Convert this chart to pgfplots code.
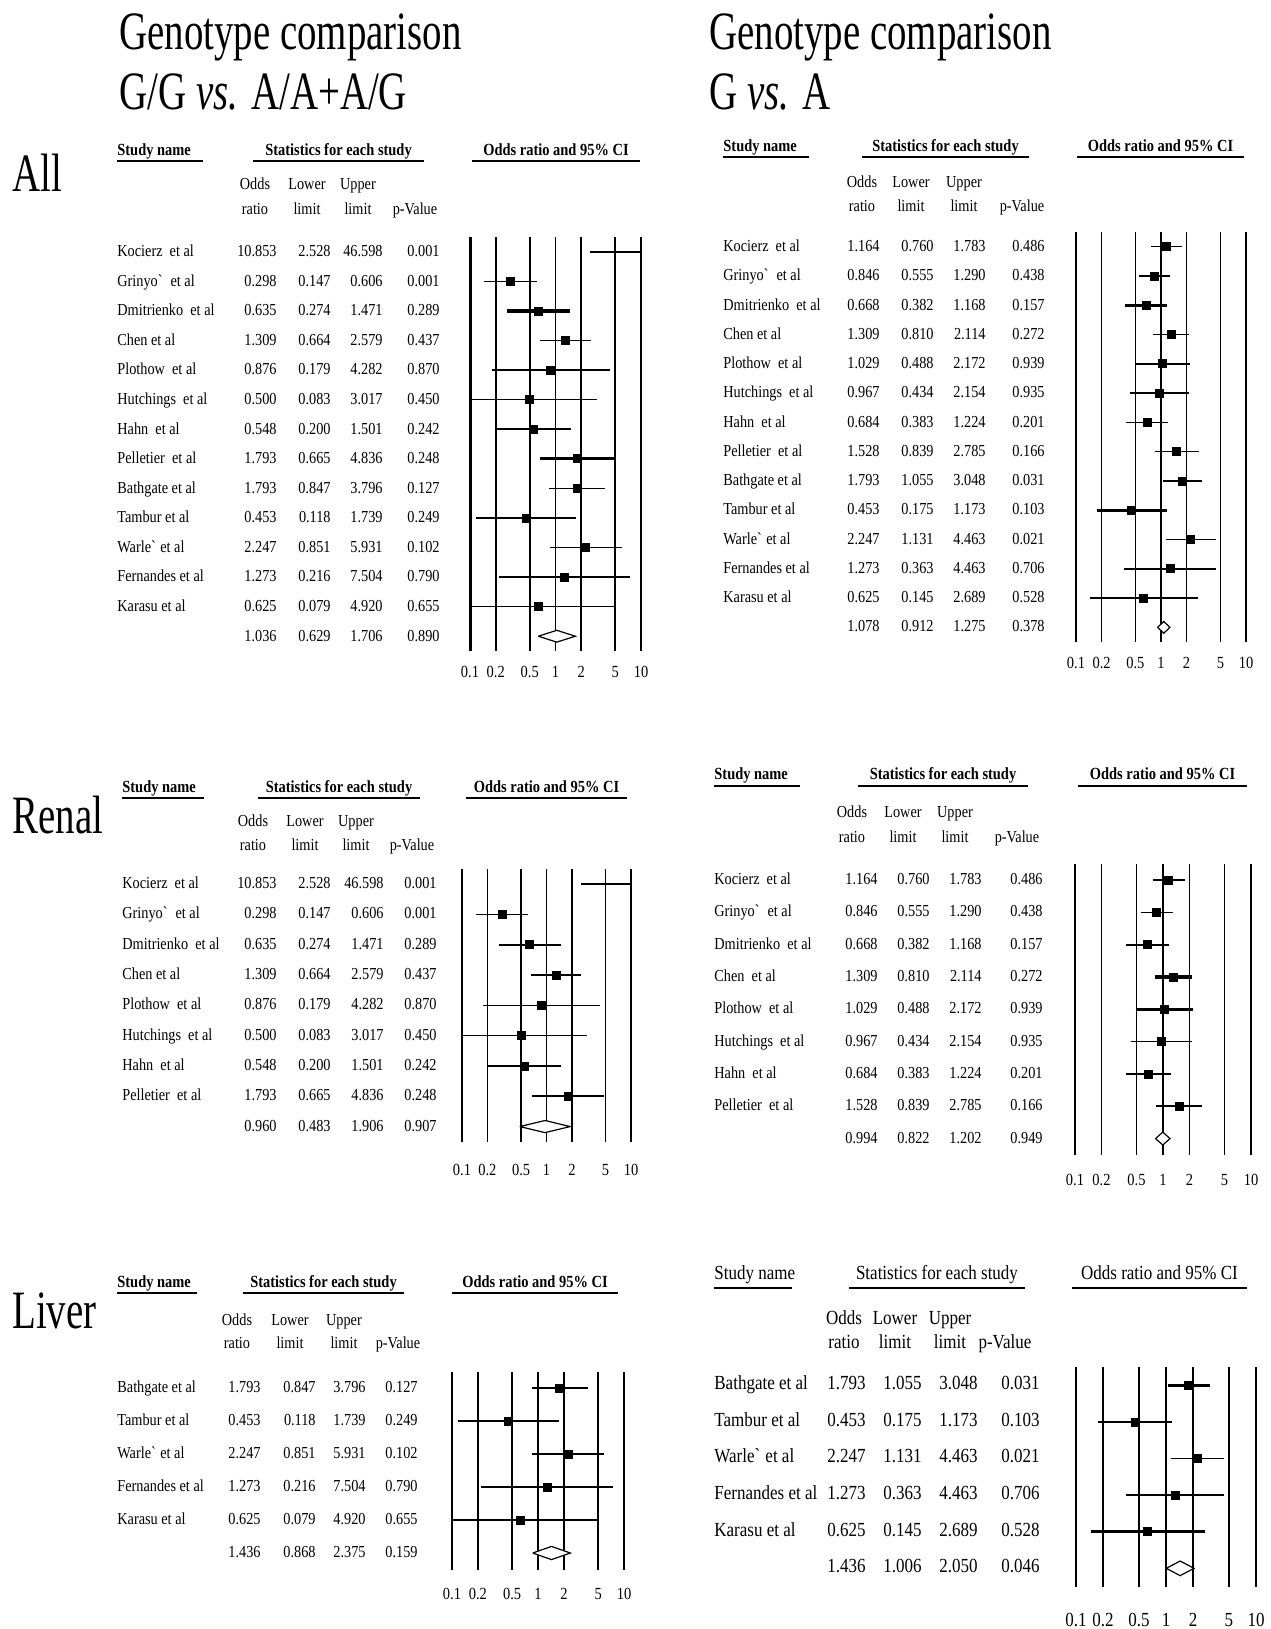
\documentclass[border=0pt]{standalone}
\usepackage{fontspec}
\setmainfont{Liberation Serif}[FakeStretch=0.85]
\newfontfamily\titlefont{Liberation Serif}[FakeStretch=0.72]
\usepackage{pgfplots}
\pgfplotsset{compat=1.18}

\newcommand\tabfont{\fontsize{8.4}{9}\selectfont}
\newcommand\headfont{\bfseries\fontsize{8.5}{9}\selectfont}
\newcommand\bigtitle{\titlefont\fontsize{27}{30}\selectfont}

\tikzset{
  ci/.style={black, line width=0.8pt},
  cithick/.style={black, line width=1.7pt},
  pooled/.style={black, fill=white, line width=0.6pt, line join=miter},
}

% text helpers (picture units = pixels of the reference)
\newcommand\heads[8]{% text y, rule y, study name, statistics, odds ratio
  \node[anchor=mid west, font=\headfont] at (#3,#1) {Study name};
  \draw[line width=1pt] (#3,#2) -- (#4,#2);
  \node[anchor=mid, font=\headfont] at ({(#5+#6)/2},#1) {Statistics for each study};
  \draw[line width=1pt] (#5,#2) -- (#6,#2);
  \node[anchor=mid, font=\headfont] at ({(#7+#8)/2},#1) {Odds ratio and 95\% CI};
  \draw[line width=1pt] (#7,#2) -- (#8,#2);}
\newcommand\colheads[6]{%
  \node[anchor=mid] at (#3,#1) {Odds};  \node[anchor=mid] at (#3,#2) {ratio};
  \node[anchor=mid] at (#4,#1) {Lower}; \node[anchor=mid] at (#4,#2) {limit};
  \node[anchor=mid] at (#5,#1) {Upper}; \node[anchor=mid] at (#5,#2) {limit};
  \node[anchor=mid] at (#6,#2) {p-Value};}
\newcommand\setcols[7]{\def\colN{#1}\def\colOR{#2}\def\colLo{#3}\def\colUp{#4}\def\colP{#5}\def\rowA{#6}\def\rowStep{#7}}
\newcommand\trow[6]{%
  \pgfmathsetmacro\rowY{\rowA+(#1-1)*\rowStep}
  \node[anchor=mid west] at (\colN,\rowY) {#2};
  \node[anchor=mid east] at (\colOR,\rowY) {#3};
  \node[anchor=mid east] at (\colLo,\rowY) {#4};
  \node[anchor=mid east] at (\colUp,\rowY) {#5};
  \node[anchor=mid east] at (\colP,\rowY) {#6};}

\begin{document}
\begin{tikzpicture}[x=0.5pt, y=-0.5pt]
\useasboundingbox (0,0) rectangle (1270,1629);

\begin{scope}[every node/.style={inner sep=0pt}]
% titles
\node[anchor=base west, font=\bigtitle] at (119,49) {Genotype comparison};
\node[anchor=base west, font=\bigtitle] at (119,109) {G/G \textit{vs.} A/A+A/G};
\node[anchor=base west, font=\bigtitle] at (709,49) {Genotype comparison};
\node[anchor=base west, font=\bigtitle] at (709,109) {G \textit{vs.} A};
\node[anchor=base west, font=\bigtitle] at (12,191) {All};
\node[anchor=base west, font=\bigtitle] at (12,833) {Renal};
\node[anchor=base west, font=\bigtitle] at (12,1328) {Liver};

\begin{scope}[font=\tabfont]
% ---- All, G/G vs A/A+A/G
\heads{151}{161}{117}{203}{253}{424}{472}{640}
\colheads{185}{210}{255}{307}{358}{415}
\setcols{117}{277}{331}{383}{440}{252}{29.58}
\trow{1}{Kocierz\ \ et al}{10.853}{2.528}{46.598}{0.001}
\trow{2}{Grinyo\textasciigrave\ \ et al}{0.298}{0.147}{0.606}{0.001}
\trow{3}{Dmitrienko\ \ et al}{0.635}{0.274}{1.471}{0.289}
\trow{4}{Chen et al}{1.309}{0.664}{2.579}{0.437}
\trow{5}{Plothow\ \ et al}{0.876}{0.179}{4.282}{0.870}
\trow{6}{Hutchings\ \ et al}{0.500}{0.083}{3.017}{0.450}
\trow{7}{Hahn\ \ et al}{0.548}{0.200}{1.501}{0.242}
\trow{8}{Pelletier\ \ et al}{1.793}{0.665}{4.836}{0.248}
\trow{9}{Bathgate et al}{1.793}{0.847}{3.796}{0.127}
\trow{10}{Tambur et al}{0.453}{0.118}{1.739}{0.249}
\trow{11}{Warle\textasciigrave\ et al}{2.247}{0.851}{5.931}{0.102}
\trow{12}{Fernandes et al}{1.273}{0.216}{7.504}{0.790}
\trow{13}{Karasu et al}{0.625}{0.079}{4.920}{0.655}
\trow{14}{}{1.036}{0.629}{1.706}{0.890}

% ---- All, G vs A
\heads{147}{157}{723}{809}{862}{1029}{1077}{1244}
\colheads{183}{207}{862}{911}{964}{1022}
\setcols{723}{880}{934}{986}{1045}{247}{29.25}
\trow{1}{Kocierz\ \ et al}{1.164}{0.760}{1.783}{0.486}
\trow{2}{Grinyo\textasciigrave\ \ et al}{0.846}{0.555}{1.290}{0.438}
\trow{3}{Dmitrienko\ \ et al}{0.668}{0.382}{1.168}{0.157}
\trow{4}{Chen et al}{1.309}{0.810}{2.114}{0.272}
\trow{5}{Plothow\ \ et al}{1.029}{0.488}{2.172}{0.939}
\trow{6}{Hutchings\ \ et al}{0.967}{0.434}{2.154}{0.935}
\trow{7}{Hahn\ \ et al}{0.684}{0.383}{1.224}{0.201}
\trow{8}{Pelletier\ \ et al}{1.528}{0.839}{2.785}{0.166}
\trow{9}{Bathgate et al}{1.793}{1.055}{3.048}{0.031}
\trow{10}{Tambur et al}{0.453}{0.175}{1.173}{0.103}
\trow{11}{Warle\textasciigrave\ et al}{2.247}{1.131}{4.463}{0.021}
\trow{12}{Fernandes et al}{1.273}{0.363}{4.463}{0.706}
\trow{13}{Karasu et al}{0.625}{0.145}{2.689}{0.528}
\trow{14}{}{1.078}{0.912}{1.275}{0.378}

% ---- Renal, G/G vs A/A+A/G
\heads{788}{798}{122}{204}{258}{420}{466}{627}
\colheads{822}{846}{253}{305}{356}{412}
\setcols{122}{277}{331}{384}{437}{884}{30.3}
\trow{1}{Kocierz\ \ et al}{10.853}{2.528}{46.598}{0.001}
\trow{2}{Grinyo\textasciigrave\ \ et al}{0.298}{0.147}{0.606}{0.001}
\trow{3}{Dmitrienko\ \ et al}{0.635}{0.274}{1.471}{0.289}
\trow{4}{Chen et al}{1.309}{0.664}{2.579}{0.437}
\trow{5}{Plothow\ \ et al}{0.876}{0.179}{4.282}{0.870}
\trow{6}{Hutchings\ \ et al}{0.500}{0.083}{3.017}{0.450}
\trow{7}{Hahn\ \ et al}{0.548}{0.200}{1.501}{0.242}
\trow{8}{Pelletier\ \ et al}{1.793}{0.665}{4.836}{0.248}
\trow{9}{}{0.960}{0.483}{1.906}{0.907}

% ---- Renal, G vs A
\heads{775}{786}{714}{800}{858}{1028}{1078}{1247}
\colheads{813}{838}{852}{903}{955}{1017}
\setcols{714}{878}{930}{982}{1043}{880}{32.3}
\trow{1}{Kocierz\ \ et al}{1.164}{0.760}{1.783}{0.486}
\trow{2}{Grinyo\textasciigrave\ \ et al}{0.846}{0.555}{1.290}{0.438}
\trow{3}{Dmitrienko\ \ et al}{0.668}{0.382}{1.168}{0.157}
\trow{4}{Chen\ \ et al}{1.309}{0.810}{2.114}{0.272}
\trow{5}{Plothow\ \ et al}{1.029}{0.488}{2.172}{0.939}
\trow{6}{Hutchings\ \ et al}{0.967}{0.434}{2.154}{0.935}
\trow{7}{Hahn\ \ et al}{0.684}{0.383}{1.224}{0.201}
\trow{8}{Pelletier\ \ et al}{1.528}{0.839}{2.785}{0.166}
\trow{9}{}{0.994}{0.822}{1.202}{0.949}

% ---- Liver, G/G vs A/A+A/G
\heads{1283}{1293}{117}{197}{243}{404}{452}{618}
\colheads{1321}{1344}{237}{290}{344}{398}
\setcols{117}{261}{316}{366}{418}{1388}{33}
\trow{1}{Bathgate et al}{1.793}{0.847}{3.796}{0.127}
\trow{2}{Tambur et al}{0.453}{0.118}{1.739}{0.249}
\trow{3}{Warle\textasciigrave\ et al}{2.247}{0.851}{5.931}{0.102}
\trow{4}{Fernandes et al}{1.273}{0.216}{7.504}{0.790}
\trow{5}{Karasu et al}{0.625}{0.079}{4.920}{0.655}
\trow{6}{}{1.436}{0.868}{2.375}{0.159}
\end{scope}

% ---- Liver, G vs A (larger type)
\begin{scope}[font=\fontsize{10}{11}\selectfont]
\renewcommand\headfont{\fontsize{10}{11}\selectfont}
\heads{1275}{1288}{714}{792}{849}{1025}{1072}{1247}
\colheads{1320}{1344}{844}{895}{950}{1005}
\setcols{714}{866}{922}{978}{1040}{1385}{36.6}
\trow{1}{Bathgate et al}{1.793}{1.055}{3.048}{0.031}
\trow{2}{Tambur et al}{0.453}{0.175}{1.173}{0.103}
\trow{3}{Warle\textasciigrave\ et al}{2.247}{1.131}{4.463}{0.021}
\trow{4}{Fernandes et al}{1.273}{0.363}{4.463}{0.706}
\trow{5}{Karasu et al}{0.625}{0.145}{2.689}{0.528}
\trow{6}{}{1.436}{1.006}{2.050}{0.046}
\end{scope}
\end{scope}

% ================= forest plots (anchored at their lower left corner) =================
\coordinate (pA) at (470,651);
\coordinate (pB) at (1076,642);
\coordinate (pC) at (462,1141.7);
\coordinate (pD) at (1075,1154.7);
\coordinate (pE) at (452,1569.5);
\coordinate (pF) at (1076,1586.6);

\begin{axis}[xmode=log, scale only axis, at={(pA)}, width=85.5pt, height=207pt,
  xmin=0.1, xmax=10, ymin=-0.5, ymax=13.5,
  xtick={0.1,0.2,0.5,1,2,5,10}, xticklabels={0.1,0.2,0.5,1,2,5,10},
  ytick=\empty, xmajorgrids, major grid style={black, line width=0.85pt},
  axis line style={draw=none}, tick style={draw=none},
  xticklabel style={anchor=center, yshift=-10.5pt, font=\fontsize{8.5}{9}\selectfont}]
\draw[line width=1.8pt] (axis cs:0.1,-0.5) -- (axis cs:0.1,13.5);
\addplot[ci] coordinates {(2.528,13) (46.598,13)};
\addplot[ci] coordinates {(0.147,12) (0.606,12)};
\addplot[cithick] coordinates {(0.274,11) (1.471,11)};
\addplot[ci] coordinates {(0.664,10) (2.579,10)};
\addplot[ci] coordinates {(0.179,9) (4.282,9)};
\addplot[ci] coordinates {(0.083,8) (3.017,8)};
\addplot[ci] coordinates {(0.200,7) (1.501,7)};
\addplot[cithick] coordinates {(0.665,6) (4.836,6)};
\addplot[ci] coordinates {(0.847,5) (3.796,5)};
\addplot[ci] coordinates {(0.118,4) (1.739,4)};
\addplot[ci] coordinates {(0.851,3) (5.931,3)};
\addplot[ci] coordinates {(0.216,2) (7.504,2)};
\addplot[ci] coordinates {(0.079,1) (4.920,1)};
\addplot[only marks, mark=square*, mark size=2pt, black] coordinates {
  (10.853,13) (0.298,12) (0.635,11) (1.309,10) (0.876,9) (0.500,8) (0.548,7)
  (1.793,6) (1.793,5) (0.453,4) (2.247,3) (1.273,2) (0.625,1)};
\addplot[pooled] coordinates {(0.629,0) (1.036,0.2) (1.706,0) (1.036,-0.2) (0.629,0)};
\end{axis}

\begin{axis}[xmode=log, scale only axis, at={(pB)}, width=85pt, height=205pt,
  xmin=0.1, xmax=10, ymin=-0.5, ymax=13.5,
  xtick={0.1,0.2,0.5,1,2,5,10}, xticklabels={0.1,0.2,0.5,1,2,5,10},
  ytick=\empty, xmajorgrids, major grid style={black, line width=0.85pt},
  axis line style={draw=none}, tick style={draw=none},
  xticklabel style={anchor=center, yshift=-10.5pt, font=\fontsize{8.5}{9}\selectfont}]
\addplot[ci] coordinates {(0.760,13) (1.783,13)};
\addplot[ci] coordinates {(0.555,12) (1.290,12)};
\addplot[cithick] coordinates {(0.382,11) (1.168,11)};
\addplot[ci] coordinates {(0.810,10) (2.114,10)};
\addplot[ci] coordinates {(0.488,9) (2.172,9)};
\addplot[ci] coordinates {(0.434,8) (2.154,8)};
\addplot[ci] coordinates {(0.383,7) (1.224,7)};
\addplot[ci] coordinates {(0.839,6) (2.785,6)};
\addplot[ci] coordinates {(1.055,5) (3.048,5)};
\addplot[cithick] coordinates {(0.175,4) (1.173,4)};
\addplot[ci] coordinates {(1.131,3) (4.463,3)};
\addplot[ci] coordinates {(0.363,2) (4.463,2)};
\addplot[ci] coordinates {(0.145,1) (2.689,1)};
\addplot[only marks, mark=square*, mark size=2pt, black] coordinates {
  (1.164,13) (0.846,12) (0.668,11) (1.309,10) (1.029,9) (0.967,8) (0.684,7)
  (1.528,6) (1.793,5) (0.453,4) (2.247,3) (1.273,2) (0.625,1)};
\addplot[pooled] coordinates {(0.912,0) (1.078,0.2) (1.275,0) (1.078,-0.2) (0.912,0)};
\end{axis}

\begin{axis}[xmode=log, scale only axis, at={(pC)}, width=84.5pt, height=136.35pt,
  xmin=0.1, xmax=10, ymin=-0.5, ymax=8.5,
  xtick={0.1,0.2,0.5,1,2,5,10}, xticklabels={0.1,0.2,0.5,1,2,5,10},
  ytick=\empty, xmajorgrids, major grid style={black, line width=0.85pt},
  axis line style={draw=none}, tick style={draw=none},
  xticklabel style={anchor=center, yshift=-14pt, font=\fontsize{8.5}{9}\selectfont}]
\addplot[ci] coordinates {(2.528,8) (46.598,8)};
\addplot[ci] coordinates {(0.147,7) (0.606,7)};
\addplot[ci] coordinates {(0.274,6) (1.471,6)};
\addplot[ci] coordinates {(0.664,5) (2.579,5)};
\addplot[ci] coordinates {(0.179,4) (4.282,4)};
\addplot[ci] coordinates {(0.083,3) (3.017,3)};
\addplot[ci] coordinates {(0.200,2) (1.501,2)};
\addplot[ci] coordinates {(0.665,1) (4.836,1)};
\addplot[only marks, mark=square*, mark size=2pt, black] coordinates {
  (10.853,8) (0.298,7) (0.635,6) (1.309,5) (0.876,4) (0.500,3) (0.548,2) (1.793,1)};
\addplot[pooled] coordinates {(0.483,0) (0.960,0.2) (1.906,0) (0.960,-0.2) (0.483,0)};
\end{axis}

\begin{axis}[xmode=log, scale only axis, at={(pD)}, width=88pt, height=145.35pt,
  xmin=0.1, xmax=10, ymin=-0.5, ymax=8.5,
  xtick={0.1,0.2,0.5,1,2,5,10}, xticklabels={0.1,0.2,0.5,1,2,5,10},
  ytick=\empty, xmajorgrids, major grid style={black, line width=0.85pt},
  axis line style={draw=none}, tick style={draw=none},
  xticklabel style={anchor=center, yshift=-12.5pt, font=\fontsize{8.5}{9}\selectfont}]
\addplot[ci] coordinates {(0.760,8) (1.783,8)};
\addplot[ci] coordinates {(0.555,7) (1.290,7)};
\addplot[ci] coordinates {(0.382,6) (1.168,6)};
\addplot[cithick] coordinates {(0.810,5) (2.114,5)};
\addplot[cithick] coordinates {(0.488,4) (2.172,4)};
\addplot[ci] coordinates {(0.434,3) (2.154,3)};
\addplot[ci] coordinates {(0.383,2) (1.224,2)};
\addplot[ci] coordinates {(0.839,1) (2.785,1)};
\addplot[only marks, mark=square*, mark size=2pt, black] coordinates {
  (1.164,8) (0.846,7) (0.668,6) (1.309,5) (1.029,4) (0.967,3) (0.684,2) (1.528,1)};
\addplot[pooled] coordinates {(0.822,0) (0.994,0.2) (1.202,0) (0.994,-0.2) (0.822,0)};
\end{axis}

\begin{axis}[xmode=log, scale only axis, at={(pE)}, width=86pt, height=99pt,
  xmin=0.1, xmax=10, ymin=-0.5, ymax=5.5,
  xtick={0.1,0.2,0.5,1,2,5,10}, xticklabels={0.1,0.2,0.5,1,2,5,10},
  ytick=\empty, xmajorgrids, major grid style={black, line width=0.85pt},
  axis line style={draw=none}, tick style={draw=none},
  xticklabel style={anchor=center, yshift=-12.25pt, font=\fontsize{8.5}{9}\selectfont}]
\addplot[ci] coordinates {(0.847,5) (3.796,5)};
\addplot[ci] coordinates {(0.118,4) (1.739,4)};
\addplot[ci] coordinates {(0.851,3) (5.931,3)};
\addplot[ci] coordinates {(0.216,2) (7.504,2)};
\addplot[ci] coordinates {(0.079,1) (4.920,1)};
\addplot[only marks, mark=square*, mark size=2pt, black] coordinates {
  (1.793,5) (0.453,4) (2.247,3) (1.273,2) (0.625,1)};
\addplot[pooled] coordinates {(0.868,0) (1.436,0.2) (2.375,0) (1.436,-0.2) (0.868,0)};
\end{axis}

\begin{axis}[xmode=log, scale only axis, at={(pF)}, width=90pt, height=109.8pt,
  xmin=0.1, xmax=10, ymin=-0.5, ymax=5.5,
  xtick={0.1,0.2,0.5,1,2,5,10}, xticklabels={0.1,0.2,0.5,1,2,5,10},
  ytick=\empty, xmajorgrids, major grid style={black, line width=0.85pt},
  axis line style={draw=none}, tick style={draw=none},
  xticklabel style={anchor=center, yshift=-16.7pt, font=\fontsize{10}{11}\selectfont}]
\addplot[cithick] coordinates {(1.055,5) (3.048,5)};
\addplot[ci] coordinates {(0.175,4) (1.173,4)};
\addplot[ci] coordinates {(1.131,3) (4.463,3)};
\addplot[ci] coordinates {(0.363,2) (4.463,2)};
\addplot[cithick] coordinates {(0.145,1) (2.689,1)};
\addplot[only marks, mark=square*, mark size=2pt, black] coordinates {
  (1.793,5) (0.453,4) (2.247,3) (1.273,2) (0.625,1)};
\addplot[pooled] coordinates {(1.006,0) (1.436,0.2) (2.050,0) (1.436,-0.2) (1.006,0)};
\end{axis}
\end{tikzpicture}
\end{document}
